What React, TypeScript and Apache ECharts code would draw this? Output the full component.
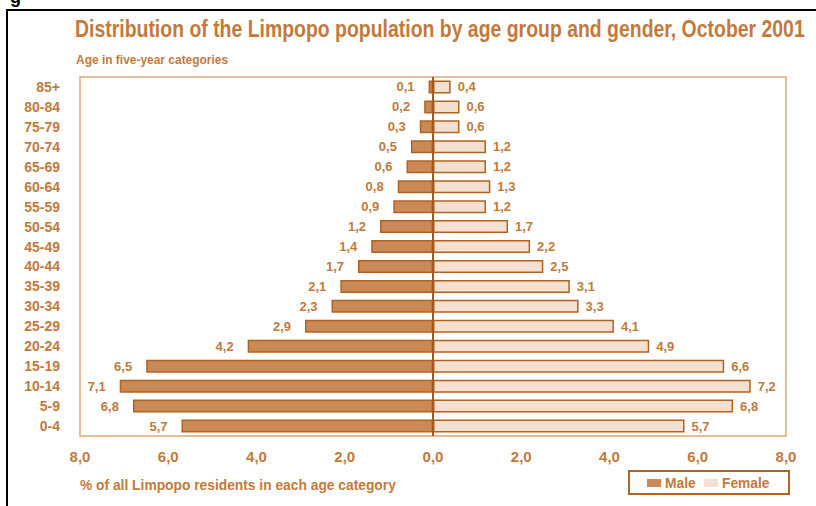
import React, { useEffect, useRef } from "react";
import * as echarts from "echarts";

const ageGroups = [
  "85+", "80-84", "75-79", "70-74", "65-69", "60-64", "55-59", "50-54", "45-49",
  "40-44", "35-39", "30-34", "25-29", "20-24", "15-19", "10-14", "5-9", "0-4",
];
const maleValues = [0.1, 0.2, 0.3, 0.5, 0.6, 0.8, 0.9, 1.2, 1.4, 1.7, 2.1, 2.3, 2.9, 4.2, 6.5, 7.1, 6.8, 5.7];
const femaleValues = [0.4, 0.6, 0.6, 1.2, 1.2, 1.3, 1.2, 1.7, 2.2, 2.5, 3.1, 3.3, 4.1, 4.9, 6.6, 7.2, 6.8, 5.7];
const xMin = -8;
const xMax = 8;
const xInterval = 2;

const FONT = "'Liberation Sans', Arial, sans-serif";
const TXT = "#C27A3C";
const EDGE = "#B2621F";
const MALE = "#C98A57";
const FEMALE = "#F3E0D0";

const fmt = (v: number) => Math.abs(v).toFixed(1).replace(".", ",");

export default function App() {
  const ref = useRef<HTMLDivElement>(null);
  useEffect(() => {
    document.body.style.margin = "0";
    const chart = echarts.init(ref.current!, null, { renderer: "svg" });
    chart.setOption({
      animation: false,
      backgroundColor: "#ffffff",
      textStyle: { fontFamily: FONT },
      grid: {
        left: 80,
        right: 30,
        top: 77,
        bottom: 70,
        show: true,
        borderColor: "#DCA878",
        borderWidth: 1.5,
        backgroundColor: "transparent",
      },
      legend: { show: false },
      xAxis: {
        type: "value",
        min: xMin,
        max: xMax,
        interval: xInterval,
        splitLine: { show: false },
        axisLine: { show: false },
        axisTick: { show: false },
        axisLabel: {
          formatter: (v: number) => fmt(v),
          fontFamily: FONT,
          fontWeight: "bold",
          fontSize: 15,
          color: TXT,
          margin: 13,
        },
      },
      yAxis: {
        type: "category",
        data: ageGroups,
        inverse: true,
        axisLine: { show: false },
        axisTick: { show: false },
        axisLabel: {
          fontFamily: FONT,
          fontWeight: "bold",
          fontSize: 14,
          color: TXT,
          margin: 20,
        },
      },
      graphic: [
        {
          type: "rect",
          shape: { x: 7, y: 10, width: 900, height: 600 },
          style: { fill: "none", stroke: "#000000", lineWidth: 2 },
          silent: true,
        },
        {
          type: "text",
          x: 10,
          y: -12,
          style: { text: "g", font: "bold 18px 'Liberation Sans', sans-serif", fill: "#000000" },
          silent: true,
        },
        {
          type: "text",
          x: 75,
          y: 29,
          scaleX: 0.81,
          style: {
            text: "Distribution of the Limpopo population by age group and gender, October 2001",
            font: "bold 24px " + FONT,
            fill: TXT,
            verticalAlign: "middle",
          },
          silent: true,
        },
        {
          type: "text",
          x: 76,
          y: 60,
          scaleX: 0.92,
          style: {
            text: "Age in five-year categories",
            font: "bold 13px " + FONT,
            fill: TXT,
            verticalAlign: "middle",
          },
          silent: true,
        },
        {
          type: "text",
          x: 80,
          y: 485,
          scaleX: 0.92,
          style: {
            text: "% of all Limpopo residents in each age category",
            font: "bold 15px " + FONT,
            fill: TXT,
            verticalAlign: "middle",
          },
          silent: true,
        },
        {
          type: "rect",
          shape: { x: 629, y: 471, width: 160, height: 23 },
          style: { fill: "#ffffff", stroke: EDGE, lineWidth: 2 },
          silent: true,
        },
        {
          type: "rect",
          shape: { x: 647, y: 479, width: 14, height: 8 },
          style: { fill: MALE },
          silent: true,
        },
        {
          type: "text",
          x: 665,
          y: 483,
          scaleX: 0.92,
          style: { text: "Male", font: "bold 15px " + FONT, fill: TXT, verticalAlign: "middle" },
          silent: true,
        },
        {
          type: "rect",
          shape: { x: 704, y: 479, width: 14, height: 8 },
          style: { fill: FEMALE },
          silent: true,
        },
        {
          type: "text",
          x: 722,
          y: 483,
          scaleX: 0.92,
          style: { text: "Female", font: "bold 15px " + FONT, fill: TXT, verticalAlign: "middle" },
          silent: true,
        },
      ],
      series: [
        {
          name: "Male",
          type: "bar",
          data: maleValues.map((v) => -v),
          barWidth: 13,
          barGap: "-100%",
          itemStyle: { color: MALE, borderColor: EDGE, borderWidth: 1.5 },
          label: {
            show: true,
            position: "left",
            distance: 14,
            formatter: (p: any) => fmt(p.value),
            fontFamily: FONT,
            fontWeight: "bold",
            fontSize: 13,
            color: TXT,
          },
        },
        {
          name: "Female",
          type: "bar",
          data: femaleValues,
          barWidth: 13,
          barGap: "-100%",
          itemStyle: { color: FEMALE, borderColor: EDGE, borderWidth: 1.5 },
          label: {
            show: true,
            position: "right",
            distance: 7,
            formatter: (p: any) => fmt(p.value),
            fontFamily: FONT,
            fontWeight: "bold",
            fontSize: 13,
            color: TXT,
          },
          markLine: {
            silent: true,
            symbol: "none",
            label: { show: false },
            lineStyle: { color: "#A8581A", width: 2, type: "solid" },
            data: [{ xAxis: 0 }],
          },
        },
      ],
    });
    return () => chart.dispose();
  }, []);
  return <div ref={ref} style={{ width: 816, height: 506 }} />;
}
